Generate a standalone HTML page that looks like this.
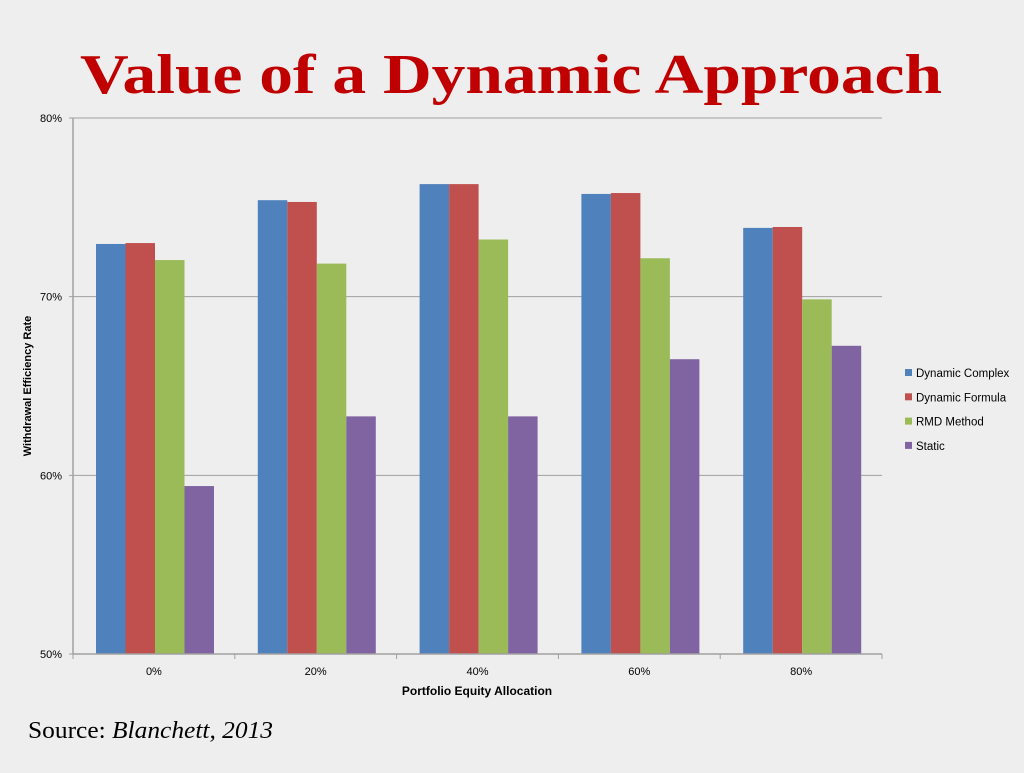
<!DOCTYPE html>
<html><head><meta charset="utf-8"><style>
body{margin:0;background:#eeeeee;width:1024px;height:768px;overflow:hidden}
</style></head><body>
<svg width="1024" height="768" xmlns="http://www.w3.org/2000/svg">
<rect width="1024" height="768" fill="#eeeeee"/>
<text x="80" y="93" textLength="862" lengthAdjust="spacingAndGlyphs" font-family="Liberation Serif, serif" font-weight="bold" font-size="56" fill="#c00000">Value of a Dynamic Approach</text>
<g id="grid"></g>
<g id="bars"></g>
<g id="axes"></g>
<text transform="translate(31,386) rotate(-90)" text-anchor="middle" font-family="Liberation Sans, sans-serif" font-weight="bold" font-size="11" fill="#000">Withdrawal Efficiency Rate</text>
<text x="477" y="695" text-anchor="middle" font-family="Liberation Sans, sans-serif" font-weight="bold" font-size="12" fill="#000">Portfolio Equity Allocation</text>
<g id="legend"></g>
<text x="28" y="738" textLength="245" lengthAdjust="spacingAndGlyphs" font-family="Liberation Serif, serif" font-size="24" fill="#000">Source: <tspan font-style="italic">Blanchett, 2013</tspan></text>
</svg>
<script>
const categories=["0%","20%","40%","60%","80%"];
const seriesNames=["Dynamic Complex","Dynamic Formula","RMD Method","Static"];
const dynamicComplex=[72.95,75.4,76.3,75.75,73.85];
const dynamicFormula=[73.0,75.3,76.3,75.8,73.9];
const rmdMethod=[72.05,71.85,73.2,72.15,69.85];
const staticVals=[59.4,63.3,63.3,66.5,67.25];
const yTicks=[50,60,70,80];
const colors=["#4f81bd","#c0504d","#9bbb59","#8064a2"];
const series=[dynamicComplex,dynamicFormula,rmdMethod,staticVals];
const NS="http://www.w3.org/2000/svg";
const x0=73,x1=882,yTop=118,yBot=654,vMin=50,vMax=80;
const y=v=>yBot-(v-vMin)/(vMax-vMin)*(yBot-yTop);
const cw=(x1-x0)/categories.length;
function mk(tag,attrs,parent,txt){const e=document.createElementNS(NS,tag);for(const k in attrs)e.setAttribute(k,attrs[k]);if(txt!=null)e.textContent=txt;parent.appendChild(e);return e;}
const grid=document.getElementById('grid'),bars=document.getElementById('bars'),axes=document.getElementById('axes'),legend=document.getElementById('legend');
yTicks.forEach(t=>{
 const l=mk('line',{x1:x0-4,x2:x1,y1:y(t),y2:y(t),stroke:'#a0a0a0','stroke-width':1},grid);
 
 
 const tx=mk('text',{x:x0-11,y:y(t)+4,'text-anchor':'end','font-family':'Liberation Sans, sans-serif','font-size':11,fill:'#000'},axes,t+'%');
 
 
});
const ya=mk('line',{x1:x0,x2:x0,y1:yTop,y2:yBot,stroke:'#a0a0a0','stroke-width':1.5},axes);


for(let i=0;i<=categories.length;i++){
 const tk=mk('line',{x1:x0+i*cw,x2:x0+i*cw,y1:yBot,y2:yBot+5,stroke:'#a0a0a0'},axes);
 
 
}
const bw=29.5,gOff=23;
categories.forEach((c,i)=>{
 series.forEach((s,j)=>{
  const bx=x0+i*cw+gOff+j*bw;
  const r=mk('rect',{x:bx,y:y(s[i]),width:bw,height:yBot-y(s[i]),fill:colors[j]},bars);
  
  
 });
 const t=mk('text',{x:x0+i*cw+cw/2,y:675,'text-anchor':'middle','font-family':'Liberation Sans, sans-serif','font-size':11,fill:'#000'},axes,c);
 
 
});
const xa=mk('line',{x1:x0,x2:x1,y1:yBot,y2:yBot,stroke:'#a0a0a0','stroke-width':1.5},axes);


seriesNames.forEach((n,j)=>{
 const ly=373+j*24.3;
 const r=mk('rect',{x:905,y:ly-4,width:7,height:7,fill:colors[j]},legend);
 
 
 const t=mk('text',{x:916,y:ly+4,'font-family':'Liberation Sans, sans-serif','font-size':11.5,fill:'#000'},legend,n);
 
 
});
</script>
</body></html>
